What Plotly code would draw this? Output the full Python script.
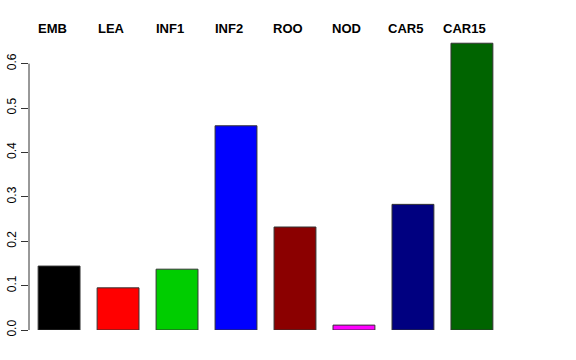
import plotly.graph_objects as go

categories = ["EMB", "LEA", "INF1", "INF2", "ROO", "NOD", "CAR5", "CAR15"]
values = [0.144, 0.095, 0.137, 0.460, 0.232, 0.011, 0.283, 0.646]
colors = ["#000000", "#FF0000", "#00CD00", "#0000FF", "#8B0000", "#FF00FF", "#000080", "#006400"]
ytick_vals = [0.0, 0.1, 0.2, 0.3, 0.4, 0.5, 0.6]
ytick_text = ["0.0", "0.1", "0.2", "0.3", "0.4", "0.5", "0.6"]

W, H = 576, 360
L, T = 29, 37
R = W - L - 473
B = H - T - 293

fig = go.Figure()
fig.add_trace(go.Bar(
    x=list(range(len(categories))), y=values,
    marker=dict(color=colors, line=dict(color="#333333", width=1)),
    width=0.71, showlegend=False, hoverinfo="skip",
))

for i, c in enumerate(categories):
    fig.add_annotation(x=i, y=1, xref="x", yref="paper", text="<b>%s</b>" % c,
                       showarrow=False, yanchor="bottom", yshift=-1, xshift=-7,
                       font=dict(family="Liberation Sans, Arial", size=13, color="black"))

fig.add_shape(type="line", xref="paper", yref="y", x0=0, x1=0, y0=ytick_vals[0], y1=ytick_vals[-1],
              line=dict(color="#333333", width=1))

fig.update_layout(
    width=W, height=H, margin=dict(l=L, r=R, t=T, b=B, autoexpand=False),
    paper_bgcolor="white", plot_bgcolor="white",
    bargap=0.29,
    xaxis=dict(range=[-0.51, 7.51], showticklabels=False, showgrid=False, zeroline=False,
               showline=False, ticks="", automargin=False),
    yaxis=dict(range=[0, 0.66], tickvals=ytick_vals, ticktext=ytick_text, tickangle=-90,
               ticks="outside", ticklen=7, tickcolor="#333333", showgrid=False, zeroline=False,
               showline=False, automargin=False,
               tickfont=dict(family="Liberation Sans, Arial", size=12, color="black")),
)

fig.write_html("out.html", config={"displayModeBar": False, "staticPlot": True},
               post_script="document.body.style.margin='0px';document.body.style.overflow='hidden';")
